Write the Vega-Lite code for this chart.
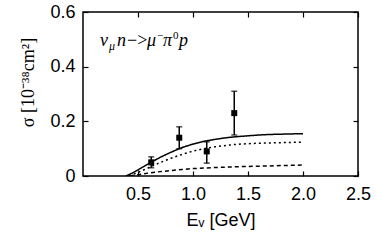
{
  "$schema": "https://vega.github.io/schema/vega-lite/v6.json",
  "width": 275,
  "height": 164,
  "autosize": {"type": "none"},
  "padding": {"left": 83, "top": 12, "right": 24, "bottom": 69},
  "background": "white",
  "config": {
    "view": {"stroke": "black", "strokeWidth": 1.5},
    "axis": {"labelFont": "Liberation Sans", "labelFontSize": 18, "labelColor": "black", "titleColor": "black", "grid": false, "domain": false, "tickColor": "black", "tickWidth": 1.2, "tickSize": -5},
    "text": {"font": "Liberation Serif", "fontStyle": "italic", "color": "black", "align": "left", "baseline": "alphabetic"}
  },
  "datasets": {
    "points": [
      {"E": 0.62, "sigma": 0.05, "lo": 0.03, "hi": 0.07},
      {"E": 0.875, "sigma": 0.14, "lo": 0.1, "hi": 0.18},
      {"E": 1.125, "sigma": 0.09, "lo": 0.047, "hi": 0.125},
      {"E": 1.375, "sigma": 0.23, "lo": 0.15, "hi": 0.31}
    ],
    "curves": [
      {"E": 0.39, "sigma": 0.0, "model": "total"},
      {"E": 0.45, "sigma": 0.011, "model": "total"},
      {"E": 0.5, "sigma": 0.022, "model": "total"},
      {"E": 0.55, "sigma": 0.034, "model": "total"},
      {"E": 0.6, "sigma": 0.046, "model": "total"},
      {"E": 0.7, "sigma": 0.068, "model": "total"},
      {"E": 0.8, "sigma": 0.087, "model": "total"},
      {"E": 0.9, "sigma": 0.104, "model": "total"},
      {"E": 1.0, "sigma": 0.117, "model": "total"},
      {"E": 1.1, "sigma": 0.127, "model": "total"},
      {"E": 1.2, "sigma": 0.134, "model": "total"},
      {"E": 1.3, "sigma": 0.14, "model": "total"},
      {"E": 1.4, "sigma": 0.144, "model": "total"},
      {"E": 1.5, "sigma": 0.147, "model": "total"},
      {"E": 1.6, "sigma": 0.15, "model": "total"},
      {"E": 1.7, "sigma": 0.152, "model": "total"},
      {"E": 1.8, "sigma": 0.153, "model": "total"},
      {"E": 1.9, "sigma": 0.154, "model": "total"},
      {"E": 2.0, "sigma": 0.155, "model": "total"},
      {"E": 0.42, "sigma": 0.0, "model": "delta"},
      {"E": 0.5, "sigma": 0.013, "model": "delta"},
      {"E": 0.6, "sigma": 0.031, "model": "delta"},
      {"E": 0.7, "sigma": 0.049, "model": "delta"},
      {"E": 0.8, "sigma": 0.065, "model": "delta"},
      {"E": 0.9, "sigma": 0.079, "model": "delta"},
      {"E": 1.0, "sigma": 0.091, "model": "delta"},
      {"E": 1.1, "sigma": 0.1, "model": "delta"},
      {"E": 1.2, "sigma": 0.107, "model": "delta"},
      {"E": 1.3, "sigma": 0.112, "model": "delta"},
      {"E": 1.4, "sigma": 0.116, "model": "delta"},
      {"E": 1.5, "sigma": 0.118, "model": "delta"},
      {"E": 1.6, "sigma": 0.12, "model": "delta"},
      {"E": 1.7, "sigma": 0.121, "model": "delta"},
      {"E": 1.8, "sigma": 0.122, "model": "delta"},
      {"E": 1.9, "sigma": 0.123, "model": "delta"},
      {"E": 2.0, "sigma": 0.124, "model": "delta"},
      {"E": 0.43, "sigma": 0.0, "model": "background"},
      {"E": 0.5, "sigma": 0.005, "model": "background"},
      {"E": 0.6, "sigma": 0.011, "model": "background"},
      {"E": 0.7, "sigma": 0.016, "model": "background"},
      {"E": 0.8, "sigma": 0.02, "model": "background"},
      {"E": 0.9, "sigma": 0.024, "model": "background"},
      {"E": 1.0, "sigma": 0.027, "model": "background"},
      {"E": 1.2, "sigma": 0.031, "model": "background"},
      {"E": 1.4, "sigma": 0.034, "model": "background"},
      {"E": 1.6, "sigma": 0.036, "model": "background"},
      {"E": 1.8, "sigma": 0.038, "model": "background"},
      {"E": 2.0, "sigma": 0.04, "model": "background"}
    ],
    "label": [{"E": 0.155, "sigma": 0.475}]
  },
  "resolve": {"axis": {"x": "independent", "y": "independent"}},
  "layer": [
    {
      "data": {"name": "curves"},
      "mark": {"type": "line", "color": "black", "strokeWidth": 1.5, "clip": true},
      "encoding": {
        "x": {"field": "E", "type": "quantitative", "scale": {"domain": [0, 2.5], "nice": false, "zero": false},
          "axis": {"orient": "bottom", "values": [0.5, 1, 1.5, 2, 2.5], "labelPadding": 14, "labelFlush": false,
            "title": "Eᵥ [GeV]", "titleFont": "Liberation Sans", "titleFontSize": 18, "titleFontWeight": "normal", "titlePadding": 8}},
        "y": {"field": "sigma", "type": "quantitative", "scale": {"domain": [0, 0.6], "nice": false},
          "axis": {"orient": "left", "values": [0, 0.2, 0.4, 0.6], "labelExpr": "datum.value == 0 ? '0' : format(datum.value, '.1f')", "labelPadding": 13, "labelFlush": false,
            "title": "σ [10⁻³⁸cm²]", "titleFont": "Liberation Serif", "titleFontSize": 18, "titleFontWeight": "normal", "titlePadding": 12, "titleY": 70, "titleAlign": "center"}},
        "detail": {"field": "model"},
        "strokeDash": {"field": "model", "type": "nominal", "scale": {"domain": ["total", "delta", "background"], "range": [[1, 0], [2, 3], [4, 3]]}, "legend": null}
      }
    },
    {
      "data": {"name": "points"},
      "mark": {"type": "point", "opacity": 0},
      "encoding": {
        "x": {"field": "E", "type": "quantitative", "scale": {"domain": [0, 2.5], "nice": false, "zero": false},
          "axis": {"orient": "top", "values": [0.5, 1, 1.5, 2, 2.5], "labels": false, "title": null}},
        "y": {"field": "sigma", "type": "quantitative", "scale": {"domain": [0, 0.6], "nice": false},
          "axis": {"orient": "right", "values": [0, 0.2, 0.4, 0.6], "labels": false, "title": null}}
      }
    },
    {
      "data": {"name": "points"},
      "mark": {"type": "rule", "color": "black", "strokeWidth": 1.5},
      "encoding": {
        "x": {"field": "E", "type": "quantitative", "axis": null},
        "y": {"field": "lo", "type": "quantitative", "axis": null},
        "y2": {"field": "hi"}
      }
    },
    {
      "data": {"name": "points"},
      "mark": {"type": "tick", "orient": "horizontal", "color": "black", "size": 6, "thickness": 1.5},
      "encoding": {
        "x": {"field": "E", "type": "quantitative", "axis": null},
        "y": {"field": "lo", "type": "quantitative", "axis": null}
      }
    },
    {
      "data": {"name": "points"},
      "mark": {"type": "tick", "orient": "horizontal", "color": "black", "size": 6, "thickness": 1.5},
      "encoding": {
        "x": {"field": "E", "type": "quantitative", "axis": null},
        "y": {"field": "hi", "type": "quantitative", "axis": null}
      }
    },
    {
      "data": {"name": "points"},
      "mark": {"type": "square", "color": "black", "filled": true, "opacity": 1, "size": 36},
      "encoding": {
        "x": {"field": "E", "type": "quantitative", "axis": null},
        "y": {"field": "sigma", "type": "quantitative", "axis": null}
      }
    },
    {
      "data": {"name": "label"},
      "mark": {"type": "text", "text": "ν", "fontSize": 18},
      "encoding": {"x": {"field": "E", "type": "quantitative", "axis": null}, "y": {"field": "sigma", "type": "quantitative", "axis": null}}
    },
    {
      "data": {"name": "label"},
      "mark": {"type": "text", "text": "μ", "fontSize": 12, "dx": 9, "dy": 4},
      "encoding": {"x": {"field": "E", "type": "quantitative", "axis": null}, "y": {"field": "sigma", "type": "quantitative", "axis": null}}
    },
    {
      "data": {"name": "label"},
      "mark": {"type": "text", "text": "n", "fontSize": 18, "dx": 17},
      "encoding": {"x": {"field": "E", "type": "quantitative", "axis": null}, "y": {"field": "sigma", "type": "quantitative", "axis": null}}
    },
    {
      "data": {"name": "label"},
      "mark": {"type": "text", "text": "−>", "fontSize": 18, "fontStyle": "normal", "dx": 27},
      "encoding": {"x": {"field": "E", "type": "quantitative", "axis": null}, "y": {"field": "sigma", "type": "quantitative", "axis": null}}
    },
    {
      "data": {"name": "label"},
      "mark": {"type": "text", "text": "μ", "fontSize": 18, "dx": 47},
      "encoding": {"x": {"field": "E", "type": "quantitative", "axis": null}, "y": {"field": "sigma", "type": "quantitative", "axis": null}}
    },
    {
      "data": {"name": "label"},
      "mark": {"type": "text", "text": "−", "fontSize": 11, "fontStyle": "normal", "dx": 57, "dy": -7},
      "encoding": {"x": {"field": "E", "type": "quantitative", "axis": null}, "y": {"field": "sigma", "type": "quantitative", "axis": null}}
    },
    {
      "data": {"name": "label"},
      "mark": {"type": "text", "text": "π", "fontSize": 18, "dx": 63},
      "encoding": {"x": {"field": "E", "type": "quantitative", "axis": null}, "y": {"field": "sigma", "type": "quantitative", "axis": null}}
    },
    {
      "data": {"name": "label"},
      "mark": {"type": "text", "text": "0", "fontSize": 11, "fontStyle": "normal", "dx": 73, "dy": -7},
      "encoding": {"x": {"field": "E", "type": "quantitative", "axis": null}, "y": {"field": "sigma", "type": "quantitative", "axis": null}}
    },
    {
      "data": {"name": "label"},
      "mark": {"type": "text", "text": "p", "fontSize": 18, "dx": 79},
      "encoding": {"x": {"field": "E", "type": "quantitative", "axis": null}, "y": {"field": "sigma", "type": "quantitative", "axis": null}}
    }
  ]
}
